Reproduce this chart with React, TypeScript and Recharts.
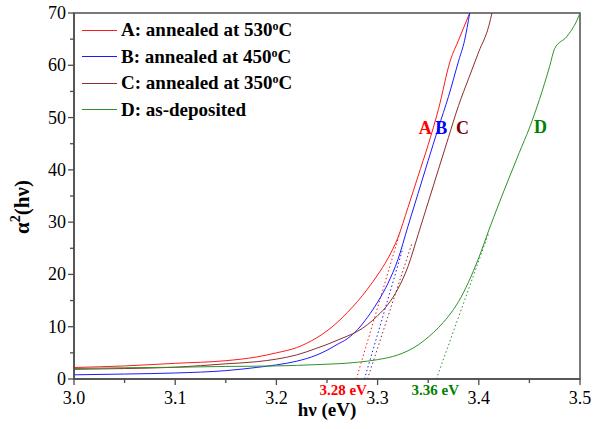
import { LineChart, Line, XAxis, YAxis, ReferenceArea, ReferenceDot, Legend } from 'recharts';

// photon energy (eV) vs alpha^2 for each sample
const curveA: [number, number][] = [
  [3.0, 2.2], [3.05, 2.5], [3.1, 3.0], [3.15, 3.5], [3.18, 4.2], [3.2, 5.0], [3.22, 6.0],
  [3.24, 7.9], [3.25, 9.2], [3.26, 10.8], [3.27, 12.7], [3.28, 14.8], [3.29, 17.2],
  [3.3, 19.9], [3.31, 23.0], [3.32, 27.0], [3.33, 32.8], [3.34, 38.8], [3.35, 44.8],
  [3.36, 51.5], [3.372, 61], [3.38, 64.8], [3.391, 70],
];
const curveB: [number, number][] = [
  [3.0, 0.8], [3.05, 0.95], [3.1, 1.15], [3.15, 1.6], [3.18, 2.2], [3.2, 2.7], [3.22, 3.4],
  [3.24, 4.6], [3.25, 5.5], [3.26, 6.6], [3.27, 7.7], [3.28, 9.4], [3.29, 11.8], [3.3, 14.7],
  [3.31, 18.2], [3.32, 22.8], [3.33, 29.2], [3.34, 35.5], [3.35, 41.8], [3.36, 48.0],
  [3.37, 54.0], [3.38, 60.8], [3.386, 64.8], [3.391, 70],
];
const curveC: [number, number][] = [
  [3.0, 1.85], [3.05, 2.0], [3.1, 2.25], [3.15, 2.9], [3.18, 3.3], [3.2, 3.8], [3.22, 4.6],
  [3.24, 5.9], [3.25, 6.6], [3.26, 7.4], [3.27, 8.2], [3.28, 9.1], [3.29, 10.4], [3.3, 12.1],
  [3.31, 14.2], [3.32, 17.2], [3.33, 21.5], [3.34, 27.6], [3.35, 33.8], [3.36, 40.0],
  [3.37, 46.2], [3.38, 52.3], [3.39, 57.5], [3.4, 62.6], [3.41, 67.6], [3.413, 70],
];
const curveD: [number, number][] = [
  [3.0, 2.0], [3.05, 2.15], [3.1, 2.25], [3.15, 2.4], [3.2, 2.5], [3.24, 2.75], [3.28, 3.2],
  [3.3, 3.7], [3.32, 4.6], [3.33, 5.4], [3.34, 6.5], [3.35, 8.0], [3.36, 9.8], [3.37, 12.0],
  [3.38, 14.8], [3.39, 18.6], [3.4, 23.2], [3.41, 28.5], [3.42, 33.6], [3.43, 38.5],
  [3.44, 43.3], [3.45, 48.0], [3.46, 53.5], [3.47, 59.8], [3.475, 63.2], [3.487, 65.5],
  [3.497, 68.6], [3.5, 70],
];

// linear extrapolations down to the energy axis
const tangentA: [number, number][] = [[3.279, 0], [3.322, 28]];
const tangentB: [number, number][] = [[3.287, 0], [3.325, 25]];
const tangentC: [number, number][] = [[3.29, 0], [3.334, 26]];
const tangentD: [number, number][] = [[3.358, 0], [3.41, 28]];

const sampleNames = ['A', 'B', 'C', 'D'];
const sampleTemps = ['530', '450', '350', ''];
const lineColors = ['#ff1a1a', '#1a1aff', '#8c2c2c', '#2e922e'];
const textColors = ['#ff0000', '#0000ff', '#800000', '#008000'];

const xTicks = [3.0, 3.05, 3.1, 3.15, 3.2, 3.25, 3.3, 3.35, 3.4, 3.45, 3.5];
const yTicks = [0, 5, 10, 15, 20, 25, 30, 35, 40, 45, 50, 55, 60, 65, 70];

// curve letter labels and band-gap labels
const letterPos = [[3.347, 46.8], [3.363, 46.8], [3.384, 46.8], [3.461, 47]];
const gapLabels = ['3.28 eV', '3.36 eV'];
const gapPos = [[3.266, -3.1], [3.357, -3.1]];

const SERIF = '"Liberation Serif", "Times New Roman", Times, "DejaVu Serif", serif';
const AXIS = '#4d4d4d';

const toPoints = (arr: [number, number][]) => arr.map(([x, y]) => ({ x, y }));

const curves = [curveA, curveB, curveC, curveD];
const tangents = [tangentA, tangentB, tangentC, tangentD];

function XTick(props: any) {
  const { x, y, payload } = props;
  const v = payload.value;
  const major = Math.abs(v * 10 - Math.round(v * 10)) < 1e-6;
  return (
    <g>
      <line x1={x} y1={y} x2={x} y2={y + (major ? 6 : 4)} stroke={AXIS} strokeWidth={1.3} />
      {major && (
        <text x={x} y={y + 25} textAnchor="middle" style={{ fontFamily: SERIF }} fontSize={18} fill="#000">
          {v.toFixed(1)}
        </text>
      )}
    </g>
  );
}

function YTick(props: any) {
  const { x, y, payload } = props;
  const v = payload.value;
  const major = v % 10 === 0;
  return (
    <g>
      <line x1={x - (major ? 6 : 4)} y1={y} x2={x} y2={y} stroke={AXIS} strokeWidth={1.3} />
      {major && (
        <text x={x - 8} y={y + 6} textAnchor="end" style={{ fontFamily: SERIF }} fontSize={18} fill="#000">
          {v}
        </text>
      )}
    </g>
  );
}

function LegendBox() {
  return (
    <div style={{ fontFamily: SERIF, fontWeight: 'bold', fontSize: 19, color: '#000' }}>
      {sampleNames.map((n, i) => (
        <div key={n} style={{ display: 'flex', alignItems: 'center', height: 26.5, whiteSpace: 'nowrap' }}>
          <span style={{ display: 'inline-block', width: 35, borderTop: `1px solid ${lineColors[i]}`, marginRight: 4 }} />
          {sampleTemps[i] ? (
            <span>
              {n}: annealed at {sampleTemps[i]}
              <sup style={{ fontSize: 12, verticalAlign: 'top', lineHeight: '14px' }}>o</sup>C
            </span>
          ) : (
            <span>{n}: as-deposited</span>
          )}
        </div>
      ))}
    </div>
  );
}

export default function App() {
  return (
    <div style={{ position: 'absolute', left: 0, top: 0, width: 601, height: 429, background: '#fff', fontFamily: SERIF }}>
      <LineChart width={601} height={429} margin={{ top: 13, right: 21, left: 14, bottom: 20 }} style={{ fontFamily: SERIF }}>
        <XAxis
          type="number"
          dataKey="x"
          domain={[3.0, 3.5]}
          ticks={xTicks}
          interval={0}
          allowDataOverflow
          height={30}
          tickSize={0}
          tickMargin={0}
          tickLine={false}
          axisLine={{ stroke: AXIS, strokeWidth: 1.5 }}
          tick={<XTick />}
          label={{
            content: () => (
              <text x={327} y={416} textAnchor="middle" style={{ fontFamily: SERIF }} fontWeight="bold" fontSize={19} fill="#000">
                hν (eV)
              </text>
            ),
          }}
        />
        <YAxis
          type="number"
          dataKey="y"
          domain={[0, 70]}
          ticks={yTicks}
          interval={0}
          allowDataOverflow
          width={60}
          tickSize={0}
          tickMargin={0}
          tickLine={false}
          axisLine={{ stroke: AXIS, strokeWidth: 1.5 }}
          tick={<YTick />}
          label={{
            content: () => (
              <text transform="translate(29,207) rotate(-90)" textAnchor="middle" style={{ fontFamily: SERIF }} fontWeight="bold" fontSize={21} fill="#000">
                α<tspan dy={-9} fontSize={14}>2</tspan>
                <tspan dy={9}>(hν)</tspan>
              </text>
            ),
          }}
        />
        <ReferenceArea x1={3.0} x2={3.5} y1={0} y2={70} fill="none" stroke={AXIS} strokeWidth={1.5} />
        {tangents.map((t, i) => (
          <Line
            key={`tan-${i}`}
            data={toPoints(t)}
            dataKey="y"
            type="linear"
            stroke={lineColors[i]}
            strokeWidth={1}
            strokeDasharray="1.5 2.5"
            dot={false}
            activeDot={false}
            isAnimationActive={false}
            legendType="none"
          />
        ))}
        {curves.map((c, i) => (
          <Line
            key={sampleNames[i]}
            name={sampleNames[i]}
            data={toPoints(c)}
            dataKey="y"
            type="monotone"
            stroke={lineColors[i]}
            strokeWidth={1}
            dot={false}
            activeDot={false}
            isAnimationActive={false}
          />
        ))}
        {letterPos.map(([x, y], i) => (
          <ReferenceDot
            key={`lbl-${i}`}
            x={x}
            y={y}
            r={0}
            ifOverflow="visible"
            shape={(p: any) => (
              <text x={p.cx} y={p.cy} textAnchor="middle" style={{ fontFamily: SERIF }} fontWeight="bold" fontSize={18} fill={textColors[i]}>
                {sampleNames[i]}
              </text>
            )}
          />
        ))}
        {gapPos.map(([x, y], i) => (
          <ReferenceDot
            key={`gap-${i}`}
            x={x}
            y={y}
            r={0}
            ifOverflow="visible"
            shape={(p: any) => (
              <text x={p.cx} y={p.cy} textAnchor="middle" style={{ fontFamily: SERIF }} fontWeight="bold" fontSize={15} fill={i === 0 ? textColors[0] : textColors[3]}>
                {gapLabels[i]}
              </text>
            )}
          />
        ))}
        <Legend
          layout="vertical"
          align="center"
          verticalAlign="middle"
          content={<LegendBox />}
          wrapperStyle={{ top: 17, left: 82, width: 'auto', height: 'auto' }}
        />
      </LineChart>
    </div>
  );
}
